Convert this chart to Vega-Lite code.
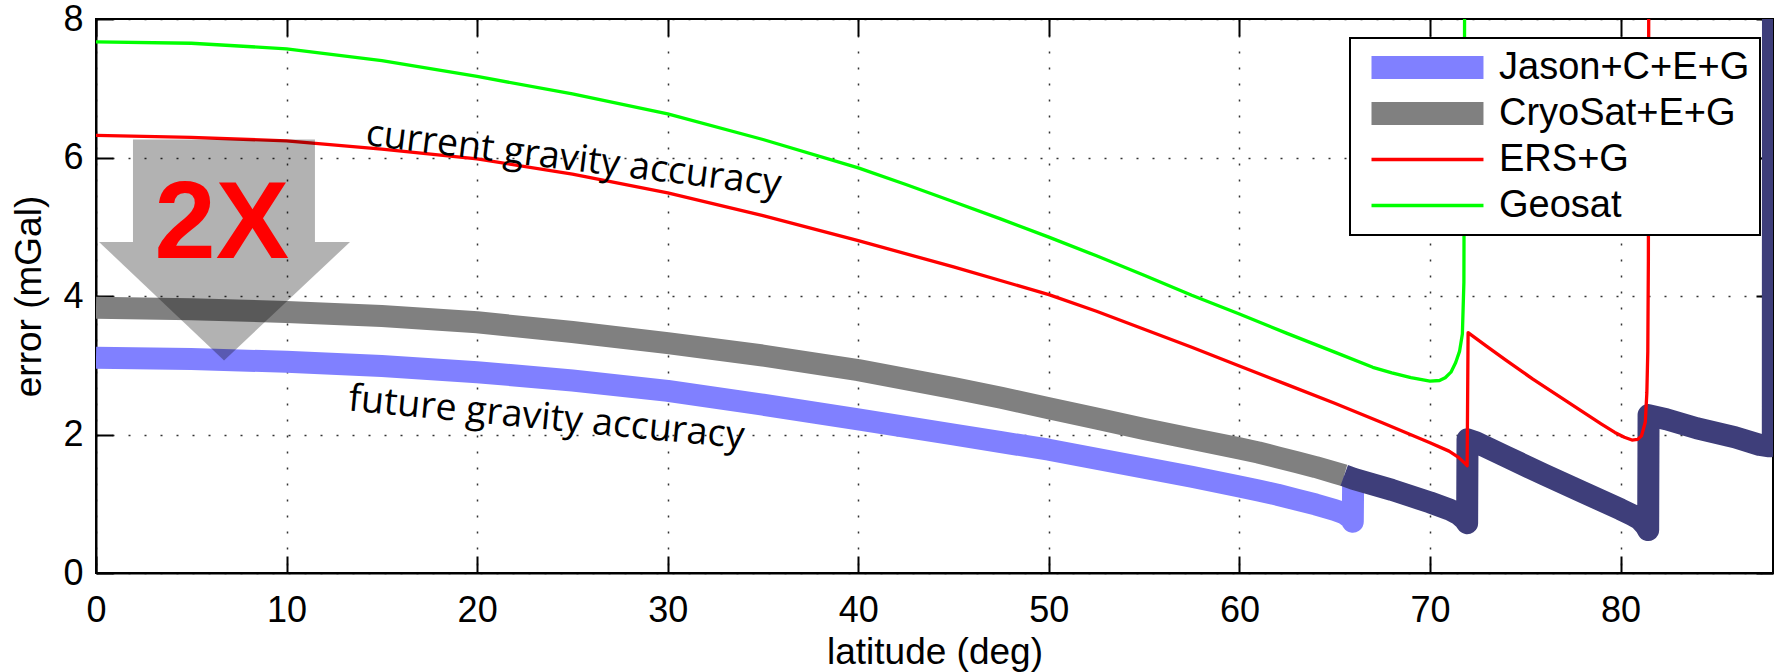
{
  "$schema": "https://vega.github.io/schema/vega-lite/v6.json",
  "width": 1677,
  "height": 554,
  "autosize": {"type": "none"},
  "padding": {"left": 96, "top": 19, "right": 4, "bottom": 99},
  "background": "white",
  "config": {
    "view": {"stroke": "#000", "strokeWidth": 2},
    "axis": {
      "domainColor": "#000", "domainWidth": 2,
      "tickColor": "#000", "tickWidth": 2, "tickSize": -17,
      "labelFont": "Liberation Sans", "labelFontSize": 36, "labelColor": "#000",
      "titleFont": "Liberation Sans", "titleFontSize": 37, "titleFontWeight": "normal", "titleColor": "#000",
      "gridColor": "#000", "gridOpacity": 0.8, "gridWidth": 1.5, "gridDash": [2, 14],
      "labelFlush": false, "labelOverlap": false
    }
  },
  "datasets": {
    "thick": [
      {"series": "Jason+C+E+G", "lat": 0, "err": 3.11},
      {"series": "Jason+C+E+G", "lat": 5, "err": 3.09},
      {"series": "Jason+C+E+G", "lat": 10, "err": 3.05},
      {"series": "Jason+C+E+G", "lat": 15, "err": 2.99},
      {"series": "Jason+C+E+G", "lat": 20, "err": 2.9},
      {"series": "Jason+C+E+G", "lat": 25, "err": 2.78},
      {"series": "Jason+C+E+G", "lat": 30, "err": 2.63},
      {"series": "Jason+C+E+G", "lat": 35, "err": 2.43},
      {"series": "Jason+C+E+G", "lat": 40, "err": 2.22},
      {"series": "Jason+C+E+G", "lat": 45, "err": 2.0},
      {"series": "Jason+C+E+G", "lat": 47.5, "err": 1.89},
      {"series": "Jason+C+E+G", "lat": 50, "err": 1.78},
      {"series": "Jason+C+E+G", "lat": 52.5, "err": 1.65},
      {"series": "Jason+C+E+G", "lat": 55, "err": 1.52},
      {"series": "Jason+C+E+G", "lat": 57.5, "err": 1.39},
      {"series": "Jason+C+E+G", "lat": 60, "err": 1.25},
      {"series": "Jason+C+E+G", "lat": 61, "err": 1.19},
      {"series": "Jason+C+E+G", "lat": 62, "err": 1.13},
      {"series": "Jason+C+E+G", "lat": 63, "err": 1.06},
      {"series": "Jason+C+E+G", "lat": 64, "err": 0.99},
      {"series": "Jason+C+E+G", "lat": 65, "err": 0.91},
      {"series": "Jason+C+E+G", "lat": 65.5, "err": 0.86},
      {"series": "Jason+C+E+G", "lat": 65.8, "err": 0.8},
      {"series": "Jason+C+E+G", "lat": 65.95, "err": 0.74},
      {"series": "Jason+C+E+G", "lat": 65.97, "err": 1.4},
      {"series": "CryoSat+E+G", "lat": 0, "err": 3.83},
      {"series": "CryoSat+E+G", "lat": 5, "err": 3.81},
      {"series": "CryoSat+E+G", "lat": 10, "err": 3.77},
      {"series": "CryoSat+E+G", "lat": 15, "err": 3.71},
      {"series": "CryoSat+E+G", "lat": 20, "err": 3.62},
      {"series": "CryoSat+E+G", "lat": 25, "err": 3.48},
      {"series": "CryoSat+E+G", "lat": 30, "err": 3.32},
      {"series": "CryoSat+E+G", "lat": 35, "err": 3.14},
      {"series": "CryoSat+E+G", "lat": 40, "err": 2.93},
      {"series": "CryoSat+E+G", "lat": 45, "err": 2.67},
      {"series": "CryoSat+E+G", "lat": 47.5, "err": 2.53},
      {"series": "CryoSat+E+G", "lat": 50, "err": 2.38},
      {"series": "CryoSat+E+G", "lat": 52.5, "err": 2.23},
      {"series": "CryoSat+E+G", "lat": 55, "err": 2.08},
      {"series": "CryoSat+E+G", "lat": 57.5, "err": 1.94},
      {"series": "CryoSat+E+G", "lat": 60, "err": 1.8},
      {"series": "CryoSat+E+G", "lat": 61, "err": 1.74},
      {"series": "CryoSat+E+G", "lat": 62, "err": 1.67},
      {"series": "CryoSat+E+G", "lat": 63, "err": 1.6},
      {"series": "CryoSat+E+G", "lat": 64, "err": 1.53},
      {"series": "CryoSat+E+G", "lat": 65, "err": 1.45},
      {"series": "CryoSat+E+G", "lat": 65.5, "err": 1.41}
    ],
    "navy": [
      {"lat": 65.5, "err": 1.41}, {"lat": 66, "err": 1.36}, {"lat": 67, "err": 1.28},
      {"lat": 68, "err": 1.2}, {"lat": 69, "err": 1.11}, {"lat": 70, "err": 1.02},
      {"lat": 71, "err": 0.92}, {"lat": 71.5, "err": 0.85}, {"lat": 71.8, "err": 0.78},
      {"lat": 71.95, "err": 0.72}, {"lat": 71.97, "err": 1.93}, {"lat": 72.4, "err": 1.89},
      {"lat": 74, "err": 1.68}, {"lat": 76, "err": 1.42}, {"lat": 78, "err": 1.17},
      {"lat": 80, "err": 0.92}, {"lat": 80.6, "err": 0.84}, {"lat": 81.0, "err": 0.78},
      {"lat": 81.3, "err": 0.69}, {"lat": 81.45, "err": 0.62}, {"lat": 81.47, "err": 2.28},
      {"lat": 82.4, "err": 2.22}, {"lat": 84, "err": 2.09}, {"lat": 86, "err": 1.96},
      {"lat": 87.3, "err": 1.85}, {"lat": 87.8, "err": 1.83}, {"lat": 87.99, "err": 1.9},
      {"lat": 88.0, "err": 9}
    ],
    "thin": [
      {"series": "ERS+G", "lat": 0, "err": 6.32},
      {"series": "ERS+G", "lat": 5, "err": 6.29},
      {"series": "ERS+G", "lat": 10, "err": 6.24},
      {"series": "ERS+G", "lat": 15, "err": 6.12},
      {"series": "ERS+G", "lat": 20, "err": 5.98},
      {"series": "ERS+G", "lat": 25, "err": 5.76},
      {"series": "ERS+G", "lat": 30, "err": 5.49},
      {"series": "ERS+G", "lat": 35, "err": 5.16},
      {"series": "ERS+G", "lat": 40, "err": 4.8},
      {"series": "ERS+G", "lat": 45, "err": 4.42},
      {"series": "ERS+G", "lat": 50, "err": 4.02},
      {"series": "ERS+G", "lat": 52.5, "err": 3.78},
      {"series": "ERS+G", "lat": 55, "err": 3.52},
      {"series": "ERS+G", "lat": 57.5, "err": 3.26},
      {"series": "ERS+G", "lat": 60, "err": 2.99},
      {"series": "ERS+G", "lat": 62.5, "err": 2.72},
      {"series": "ERS+G", "lat": 65, "err": 2.45},
      {"series": "ERS+G", "lat": 67.5, "err": 2.17},
      {"series": "ERS+G", "lat": 70, "err": 1.88},
      {"series": "ERS+G", "lat": 71, "err": 1.76},
      {"series": "ERS+G", "lat": 71.5, "err": 1.67},
      {"series": "ERS+G", "lat": 71.85, "err": 1.58},
      {"series": "ERS+G", "lat": 71.95, "err": 1.55},
      {"series": "ERS+G", "lat": 72.0, "err": 3.47},
      {"series": "ERS+G", "lat": 73, "err": 3.27},
      {"series": "ERS+G", "lat": 74, "err": 3.07},
      {"series": "ERS+G", "lat": 75.4, "err": 2.8},
      {"series": "ERS+G", "lat": 77, "err": 2.51},
      {"series": "ERS+G", "lat": 78, "err": 2.33},
      {"series": "ERS+G", "lat": 79, "err": 2.15},
      {"series": "ERS+G", "lat": 79.7, "err": 2.03},
      {"series": "ERS+G", "lat": 80.2, "err": 1.96},
      {"series": "ERS+G", "lat": 80.6, "err": 1.92},
      {"series": "ERS+G", "lat": 80.9, "err": 1.93},
      {"series": "ERS+G", "lat": 81.1, "err": 1.98},
      {"series": "ERS+G", "lat": 81.3, "err": 2.18},
      {"series": "ERS+G", "lat": 81.38, "err": 2.6},
      {"series": "ERS+G", "lat": 81.43, "err": 3.2},
      {"series": "ERS+G", "lat": 81.46, "err": 4.5},
      {"series": "ERS+G", "lat": 81.48, "err": 8.5},
      {"series": "Geosat", "lat": 0, "err": 7.67},
      {"series": "Geosat", "lat": 5, "err": 7.65},
      {"series": "Geosat", "lat": 10, "err": 7.57},
      {"series": "Geosat", "lat": 15, "err": 7.4},
      {"series": "Geosat", "lat": 20, "err": 7.17},
      {"series": "Geosat", "lat": 25, "err": 6.92},
      {"series": "Geosat", "lat": 30, "err": 6.63},
      {"series": "Geosat", "lat": 35, "err": 6.26},
      {"series": "Geosat", "lat": 40, "err": 5.85},
      {"series": "Geosat", "lat": 42.5, "err": 5.61},
      {"series": "Geosat", "lat": 45, "err": 5.36},
      {"series": "Geosat", "lat": 47.5, "err": 5.11},
      {"series": "Geosat", "lat": 50, "err": 4.85},
      {"series": "Geosat", "lat": 52.5, "err": 4.58},
      {"series": "Geosat", "lat": 55, "err": 4.3},
      {"series": "Geosat", "lat": 57.5, "err": 4.01},
      {"series": "Geosat", "lat": 60, "err": 3.74},
      {"series": "Geosat", "lat": 62.5, "err": 3.46},
      {"series": "Geosat", "lat": 65, "err": 3.19},
      {"series": "Geosat", "lat": 67, "err": 2.97},
      {"series": "Geosat", "lat": 68, "err": 2.89},
      {"series": "Geosat", "lat": 69, "err": 2.82},
      {"series": "Geosat", "lat": 70, "err": 2.77},
      {"series": "Geosat", "lat": 70.5, "err": 2.78},
      {"series": "Geosat", "lat": 70.8, "err": 2.82},
      {"series": "Geosat", "lat": 71.1, "err": 2.9},
      {"series": "Geosat", "lat": 71.35, "err": 3.04},
      {"series": "Geosat", "lat": 71.55, "err": 3.2},
      {"series": "Geosat", "lat": 71.7, "err": 3.45},
      {"series": "Geosat", "lat": 71.78, "err": 4.2},
      {"series": "Geosat", "lat": 71.82, "err": 8.5}
    ],
    "shaft": [{"lat": 1.94, "lat2": 11.49, "err": 6.26, "err2": 4.78}],
    "head": [
      {"lat": 0.16, "top": 4.78, "bot": 4.78},
      {"lat": 6.72, "top": 4.78, "bot": 3.07},
      {"lat": 13.33, "top": 4.78, "bot": 4.78}
    ],
    "big": [{"lat": 6.6, "err": 4.55, "label": "2X"}],
    "current": [{"lat": 14.1, "err": 6.18, "label": "current gravity accuracy"}],
    "future": [{"lat": 13.2, "err": 2.35, "label": "future gravity accuracy"}]
  },
  "layer": [
    {
      "data": {"name": "thick"},
      "mark": {"type": "line", "clip": true, "strokeWidth": 22, "strokeCap": "butt", "strokeJoin": "round"},
      "encoding": {
        "x": {"field": "lat", "type": "quantitative", "scale": {"domain": [0, 88], "nice": false, "zero": false},
              "axis": {"values": [0, 10, 20, 30, 40, 50, 60, 70, 80], "title": "latitude (deg)", "labelPadding": 37, "titleY": 90, "titleBaseline": "alphabetic", "grid": true}},
        "y": {"field": "err", "type": "quantitative", "scale": {"domain": [0, 8], "nice": false},
              "axis": {"values": [0, 2, 4, 6, 8], "title": "error (mGal)", "labelPadding": 30, "titleX": -56, "titleY": 277, "titleBaseline": "alphabetic", "grid": true}},
        "color": {"field": "series", "type": "nominal",
                  "scale": {"domain": ["Jason+C+E+G", "CryoSat+E+G", "ERS+G", "Geosat"], "range": ["#8080ff", "#808080", "#ff0000", "#00ff00"]},
                  "legend": {"orient": "none", "legendX": 1254, "legendY": 19, "title": null, "symbolType": "M0,-1.05H10.18V1.05H0Z", "symbolSize": 484,
                             "symbolOffset": -8, "labelOffset": 108.5, "labelFont": "Liberation Sans", "labelFontSize": 38, "labelColor": "#000",
                             "labelLimit": 400, "rowPadding": 8, "padding": 10.5, "strokeColor": "#000", "fillColor": "#fff", "cornerRadius": 0,
                             "encode": {"legend": {"update": {"strokeWidth": {"value": 2}}},
                                        "symbols": {"update": {
                                          "shape": {"signal": "indexof(['Jason+C+E+G','CryoSat+E+G'], datum.value) >= 0 ? 'M0,-1.05H10.18V1.05H0Z' : 'M0,-0.15H10.18V0.15H0Z'"},
                                          "fill": {"signal": "scale('color', datum.value)"},
                                          "fillOpacity": {"value": 1},
                                          "strokeWidth": {"value": 0},
                                          "strokeJoin": {"value": "round"},
                                          "opacity": {"value": 1}}}}}}
      }
    },
    {
      "data": {"name": "navy"},
      "mark": {"type": "line", "clip": true, "color": "#3e3e7a", "strokeWidth": 22, "strokeCap": "butt", "strokeJoin": "round"},
      "encoding": {
        "x": {"field": "lat", "type": "quantitative", "axis": null},
        "y": {"field": "err", "type": "quantitative", "axis": null}
      }
    },
    {
      "data": {"name": "thin"},
      "mark": {"type": "line", "clip": true, "strokeWidth": 3.3, "strokeJoin": "round"},
      "encoding": {
        "x": {"field": "lat", "type": "quantitative",
              "axis": {"orient": "top", "values": [0, 10, 20, 30, 40, 50, 60, 70, 80], "labels": false, "title": null, "grid": false, "domain": false}},
        "y": {"field": "err", "type": "quantitative",
              "axis": {"orient": "right", "values": [0, 2, 4, 6, 8], "labels": false, "title": null, "grid": false, "domain": false}},
        "color": {"field": "series", "type": "nominal",
                  "scale": {"domain": ["Jason+C+E+G", "CryoSat+E+G", "ERS+G", "Geosat"], "range": ["#8080ff", "#808080", "#ff0000", "#00ff00"]}}
      }
    },
    {
      "data": {"name": "shaft"},
      "mark": {"type": "rect", "color": "#000", "opacity": 0.3},
      "encoding": {
        "x": {"field": "lat", "type": "quantitative", "axis": null},
        "x2": {"field": "lat2"},
        "y": {"field": "err", "type": "quantitative", "axis": null},
        "y2": {"field": "err2"}
      }
    },
    {
      "data": {"name": "head"},
      "mark": {"type": "area", "color": "#000", "opacity": 0.3},
      "encoding": {
        "x": {"field": "lat", "type": "quantitative", "axis": null},
        "y": {"field": "top", "type": "quantitative", "axis": null},
        "y2": {"field": "bot"}
      }
    },
    {
      "data": {"name": "big"},
      "mark": {"type": "text", "font": "Liberation Sans", "fontWeight": "bold", "fontSize": 110, "color": "#ff0000", "align": "center", "baseline": "alphabetic"},
      "encoding": {
        "x": {"field": "lat", "type": "quantitative", "axis": null},
        "y": {"field": "err", "type": "quantitative", "axis": null},
        "text": {"field": "label"}
      }
    },
    {
      "data": {"name": "current"},
      "mark": {"type": "text", "font": "Open Sans", "fontSize": 37.5, "color": "#000", "align": "left", "baseline": "alphabetic", "angle": 7},
      "encoding": {
        "x": {"field": "lat", "type": "quantitative", "axis": null},
        "y": {"field": "err", "type": "quantitative", "axis": null},
        "text": {"field": "label"}
      }
    },
    {
      "data": {"name": "future"},
      "mark": {"type": "text", "font": "Open Sans", "fontSize": 37.5, "color": "#000", "align": "left", "baseline": "alphabetic", "angle": 5.5},
      "encoding": {
        "x": {"field": "lat", "type": "quantitative", "axis": null},
        "y": {"field": "err", "type": "quantitative", "axis": null},
        "text": {"field": "label"}
      }
    }
  ],
  "resolve": {"axis": {"x": "independent", "y": "independent"}}
}
